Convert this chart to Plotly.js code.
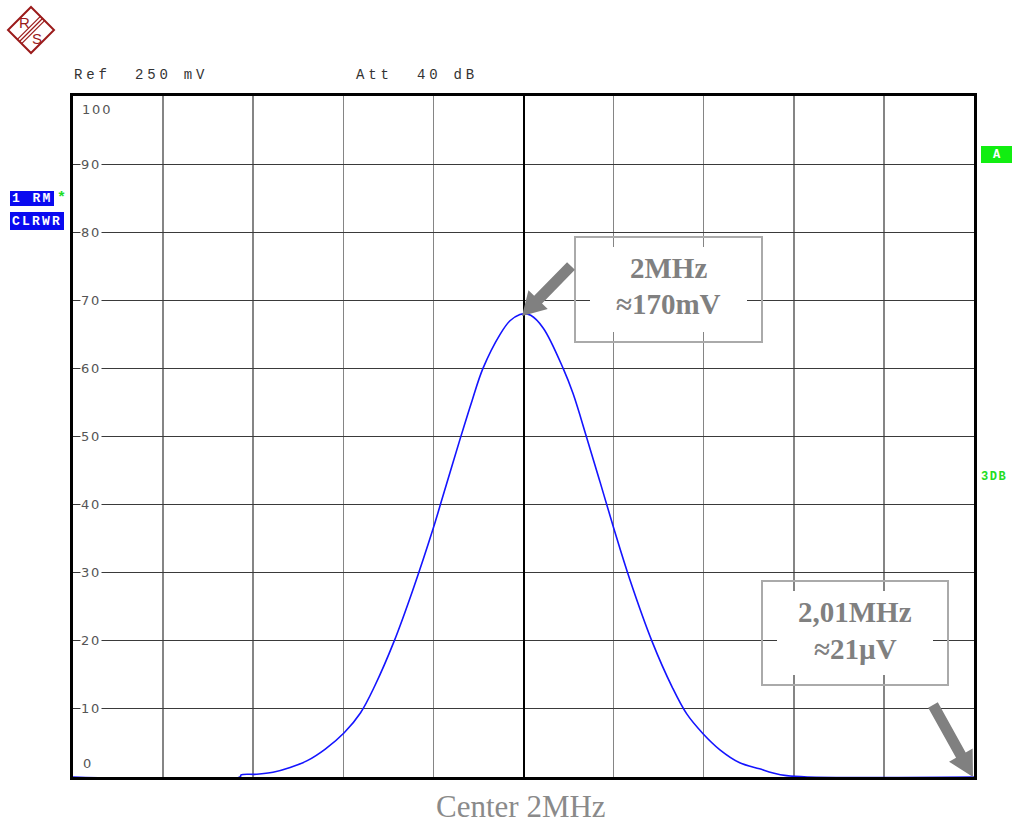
<!DOCTYPE html>
<html>
<head>
<meta charset="utf-8">
<script src="https://cdn.plot.ly/plotly-3.0.1.min.js"></script>
<style>html,body{margin:0;padding:0;background:#fff;}#chart{width:1014px;height:823px;}</style>
</head>
<body>
<div id="chart"></div>
<script>
// ---- data (frequency offset from 2 MHz centre in kHz, trace level in % of reference) ----
const freqOffsetKHz = [-10, -6.29, -6.27, -5.92, -5.56, -5.18, -4.80, -4.40, -3.98, -3.62, -3.30, -2.88, -2.46, -2.00, -1.80, -1.40, -1.14, -0.90, -0.52, -0.30, -0.08, 0, 0.16, 0.44, 0.88, 1.10, 1.40, 1.70, 2.00, 2.36, 2.86, 3.30, 3.62, 3.98, 4.36, 4.80, 5.24, 5.54, 5.84, 6.30, 10];
const level = [0, 0, 0.3, 0.4, 0.7, 1.4, 2.4, 4.1, 6.5, 9.4, 13.4, 19.8, 27.4, 36.6, 41, 49.8, 55.3, 60, 65.0, 67, 67.9, 68, 67.8, 65.9, 60, 56.3, 49.9, 43.3, 36.6, 29.0, 19.8, 13.2, 9.3, 6.4, 4, 2.1, 1.2, 0.6, 0.2, 0, 0];
const yTickValues = [100, 90, 80, 70, 60, 50, 40, 30, 20, 10, 0];
const yTickLabels = ['100', '90', '80', '70', '60', '50', '40', '30', '20', '10', '0'];
const headerLeft = 'Ref\u00a0\u00a0250\u00a0mV';
const headerRight = 'Att\u00a0\u00a040\u00a0dB';
const markerLabels = [['2MHz', '\u2248170mV'], ['2,01MHz', '\u224821\u00b5V']];
const centerLabel = 'Center 2MHz';

// ---- layout helpers (pixel -> paper) ----
const L = 73, R = 40, T = 96, B = 46, W = 1014, H = 823;
const PW = W - L - R, PH = H - T - B;
const px = x => (x - L) / PW;
const py = y => (H - B - y) / PH;

const shapes = [];
const annotations = [];

// y labels inside the plot
yTickValues.forEach((v, i) => {
  const a = {
    xref: 'paper', yref: 'y', x: px(80), y: v, xanchor: 'left', yanchor: 'middle',
    text: '<span style="letter-spacing:1.8px">' + yTickLabels[i] + '</span>',
    showarrow: false, font: {family: 'DejaVu Sans', size: 13, color: '#555'},
    bgcolor: 'white', borderpad: 0
  };
  if (v === 100) { a.yshift = -13; a.x = px(81); a.bgcolor = 'rgba(0,0,0,0)'; }
  if (v === 0) { a.yshift = 14; a.x = px(82); a.bgcolor = 'rgba(0,0,0,0)'; }
  annotations.push(a);
});

// header
annotations.push({xref:'paper', yref:'paper', x: px(72), y: py(75), xanchor:'left', yanchor:'middle',
  text:'<span style="letter-spacing:3.8px">' + headerLeft + '</span>', showarrow:false,
  font:{family:'Liberation Mono', size:14, color:'#333'}});
annotations.push({xref:'paper', yref:'paper', x: px(354), y: py(75), xanchor:'left', yanchor:'middle',
  text:'<span style="letter-spacing:3.8px">' + headerRight + '</span>', showarrow:false,
  font:{family:'Liberation Mono', size:14, color:'#333'}});

// blue trace info boxes
shapes.push({type:'rect', xref:'paper', yref:'paper', x0:px(10), x1:px(54), y0:py(191), y1:py(206), fillcolor:'#0a0af0', line:{width:0}});
shapes.push({type:'rect', xref:'paper', yref:'paper', x0:px(10), x1:px(64), y0:py(212), y1:py(230), fillcolor:'#0a0af0', line:{width:0}});
annotations.push({xref:'paper', yref:'paper', x: px(10), y: py(199), xanchor:'left', yanchor:'middle',
  text:'<b><span style="letter-spacing:2.4px">1\u00a0RM</span></b>', showarrow:false,
  font:{family:'Liberation Mono', size:13, color:'white'}});
annotations.push({xref:'paper', yref:'paper', x: px(61), y: py(198), xanchor:'center', yanchor:'middle',
  text:'<b>*</b>', showarrow:false, font:{family:'Liberation Mono', size:15, color:'#22dd22'}});
annotations.push({xref:'paper', yref:'paper', x: px(10), y: py(221), xanchor:'left', yanchor:'middle',
  text:'<b><span style="letter-spacing:2.2px">CLRWR</span></b>', showarrow:false,
  font:{family:'Liberation Mono', size:13, color:'white'}});

// right side green indicators
shapes.push({type:'rect', xref:'paper', yref:'paper', x0:px(981), x1:px(1012), y0:py(146), y1:py(163), fillcolor:'#11ee11', line:{width:0}, layer:'above'});
annotations.push({xref:'paper', yref:'paper', x: px(996.5), y: py(155), xanchor:'center', yanchor:'middle',
  text:'<b>A</b>', showarrow:false, font:{family:'Liberation Mono', size:12, color:'white'}});
annotations.push({xref:'paper', yref:'paper', x: px(979), y: py(477), xanchor:'left', yanchor:'middle',
  text:'<b><span style="letter-spacing:1.5px">3DB</span></b>', showarrow:false, font:{family:'Liberation Mono', size:12, color:'#22dd22'}});

// marker boxes
function markerBox(x0, y0, x1, y1, insetX, insetY, lines, cy1, cy2) {
  shapes.push({type:'rect', xref:'paper', yref:'paper', x0:px(x0 + insetX), x1:px(x1 - insetX), y0:py(y0 + insetY), y1:py(y1 - insetY),
    fillcolor:'white', line:{width:0}, layer:'above'});
  shapes.push({type:'rect', xref:'paper', yref:'paper', x0:px(x0), x1:px(x1), y0:py(y0), y1:py(y1),
    fillcolor:'rgba(0,0,0,0)', line:{width:2, color:'#aaaaaa'}, layer:'above'});
  const cx = (x0 + x1) / 2;
  [cy1, cy2].forEach((cy, i) => annotations.push({xref:'paper', yref:'paper', x:px(cx), y:py(cy), xanchor:'center', yanchor:'middle',
    text:'<b>' + lines[i] + '</b>', showarrow:false, font:{family:'Liberation Serif', size:29, color:'#808080'}}));
}
markerBox(575, 237, 762, 342, 15, 10, markerLabels[0], 268, 304);
markerBox(762, 581, 948, 685, 15, 10, markerLabels[1], 612, 649);

// arrows as polygons
function arrow(tx, ty, hx, hy, shaftHalf, headHalf, headLen, color) {
  const dx = hx - tx, dy = hy - ty, len = Math.hypot(dx, dy);
  const ux = dx / len, uy = dy / len, nx = -uy, ny = ux;
  const nkx = hx - ux * headLen, nky = hy - uy * headLen;
  const pts = [
    [tx + nx * shaftHalf, ty + ny * shaftHalf],
    [nkx + nx * shaftHalf, nky + ny * shaftHalf],
    [nkx + nx * headHalf, nky + ny * headHalf],
    [hx, hy],
    [nkx - nx * headHalf, nky - ny * headHalf],
    [nkx - nx * shaftHalf, nky - ny * shaftHalf],
    [tx - nx * shaftHalf, ty - ny * shaftHalf]
  ];
  const path = 'M' + pts.map(p => px(p[0]).toFixed(5) + ',' + py(p[1]).toFixed(5)).join('L') + 'Z';
  shapes.push({type:'path', xref:'paper', yref:'paper', path, fillcolor:color, line:{width:0}, layer:'above'});
}
arrow(571, 266, 522, 316, 5.5, 13.5, 23, '#808080');
arrow(933, 705, 973, 777, 5.5, 13.5, 25, '#808080');

// centre label
annotations.push({xref:'paper', yref:'paper', x: px(521), y: py(806), xanchor:'center', yanchor:'middle',
  text: centerLabel, showarrow:false, font:{family:'Liberation Serif', size:31, color:'#8a8a8a'}});

// R&S logo
const logoColor = '#9b1b1b';
const dia = [[31,7],[54,30],[31,53],[8,30]];
shapes.push({type:'path', xref:'paper', yref:'paper', path:'M' + dia.map(p => px(p[0]).toFixed(5) + ',' + py(p[1]).toFixed(5)).join('L') + 'Z',
  line:{color:logoColor, width:2}, fillcolor:'rgba(0,0,0,0)'});
[-3, 0, 3].forEach(o => {
  const s = o / Math.SQRT2;
  shapes.push({type:'line', xref:'paper', yref:'paper', x0:px(43 + s), y0:py(18 + s), x1:px(19.5 + s), y1:py(41.5 + s),
    line:{color:logoColor, width:1.2}});
});
annotations.push({xref:'paper', yref:'paper', x:px(24), y:py(22), xanchor:'center', yanchor:'middle', text:'R', showarrow:false,
  font:{family:'Liberation Sans', size:15, color:logoColor}});
annotations.push({xref:'paper', yref:'paper', x:px(37), y:py(38), xanchor:'center', yanchor:'middle', text:'S', showarrow:false,
  font:{family:'Liberation Sans', size:15, color:logoColor}});

const trace = {
  x: freqOffsetKHz, y: level, type: 'scatter', mode: 'lines',
  line: {color: '#1414ff', width: 1.6, shape: 'spline', smoothing: 1},
  hoverinfo: 'skip'
};

const layout = {
  width: W, height: H,
  margin: {l: L, r: R, t: T, b: B, pad: 0},
  paper_bgcolor: 'white', plot_bgcolor: 'white',
  showlegend: false,
  xaxis: {
    range: [-10, 10], dtick: 2, tick0: 0, showticklabels: false, ticks: '',
    showgrid: true, gridcolor: '#858585', gridwidth: 1.5,
    zeroline: true, zerolinecolor: '#000', zerolinewidth: 2,
    showline: true, linecolor: '#000', linewidth: 3, mirror: true, fixedrange: true
  },
  yaxis: {
    range: [0, 100], dtick: 10, tick0: 0, showticklabels: false, ticks: '',
    showgrid: true, gridcolor: '#3a3a3a', gridwidth: 1,
    zeroline: false,
    showline: true, linecolor: '#000', linewidth: 3, mirror: true, fixedrange: true
  },
  shapes, annotations
};

Plotly.newPlot('chart', [trace], layout, {displayModeBar: false, staticPlot: true});
</script>
</body>
</html>
